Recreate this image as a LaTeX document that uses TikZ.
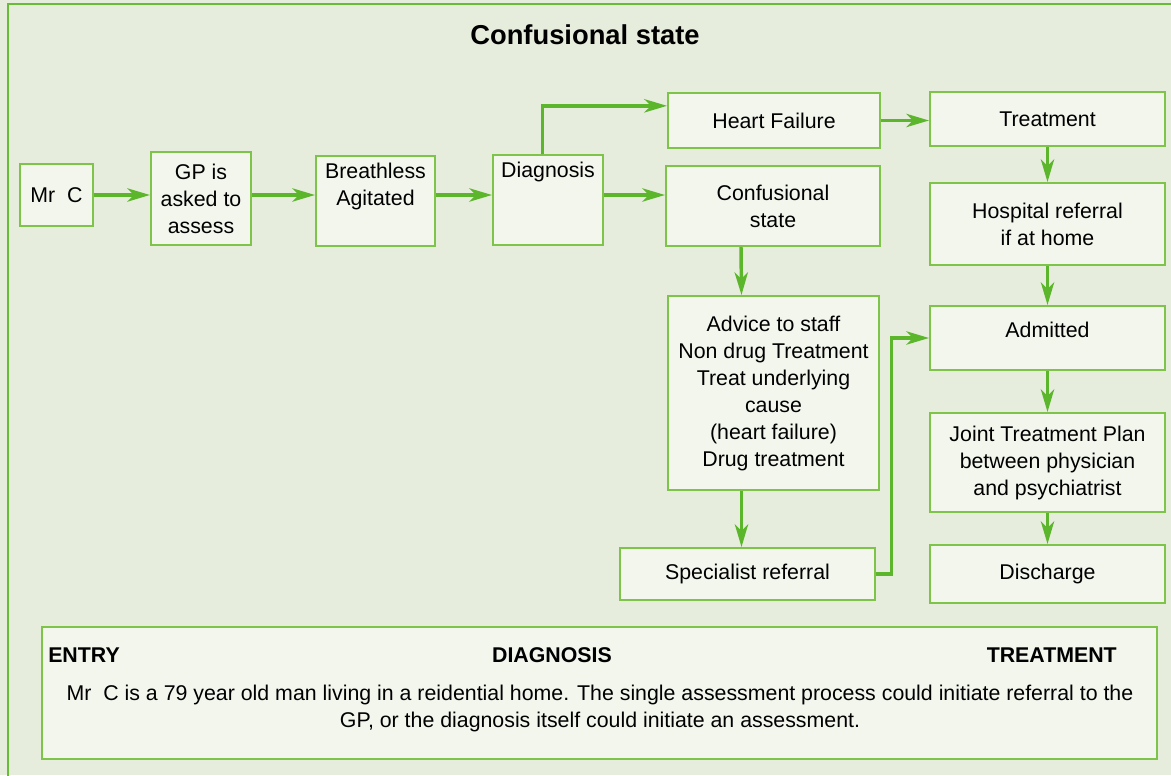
\documentclass[tikz,border=0pt]{standalone}
\usepackage{fontspec}
\setmainfont{Liberation Sans}
\usetikzlibrary{arrows.meta}
\definecolor{bggreen}{RGB}{230,237,221}
\definecolor{boxfill}{RGB}{243,246,237}
\definecolor{boxline}{RGB}{126,196,72}
\definecolor{arrgreen}{RGB}{92,182,44}
\definecolor{framegreen}{RGB}{104,188,56}
\tikzset{every node/.style={inner sep=0pt,font=\fontsize{16}{20.25}\selectfont}}

\begin{document}
\begin{tikzpicture}[x=0.75pt,y=-0.75pt]

\useasboundingbox (0,0) rectangle (1171,775);
\clip (0,0) rectangle (1171,775);
\fill[bggreen] (0,0) rectangle (1171,775);
\draw[framegreen,line width=2.2pt] (8,4) rectangle (1200,800);

\tikzstyle{box}=[draw=boxline,fill=boxfill,line width=1.5pt,align=center]
\tikzstyle{arr}=[draw=arrgreen,line width=2.6pt,-{Stealth[length=17pt,width=10pt,inset=5pt]}]
\tikzstyle{hd}=[font=\bfseries\fontsize{16}{20.25}\selectfont]

\node[font=\bfseries\fontsize{20.5}{24}\selectfont] (title) at (585,35) {Confusional state};

% entry
\node[box,minimum width=54.75pt,minimum height=46.5pt] (mrc) at (56.5,195) {Mr\ \ C};
\node[box,minimum width=75pt,minimum height=69.75pt] (gp) at (201,198.5) {GP is\\asked to\\assess};
\node[box,minimum width=89.25pt,minimum height=67.5pt,
  label={[anchor=north,inner sep=6pt,align=center]north:Breathless\\Agitated}] (brth) at (375.5,201) {};
\node[box,minimum width=82.5pt,minimum height=67.5pt,
  label={[anchor=north,inner sep=6pt]north:Diagnosis}] (diag) at (548,200) {};

% diagnosis
\node[box,minimum width=159pt,minimum height=41.25pt] (hf) at (774,120.5) {Heart Failure};
\node[box,minimum width=160.5pt,minimum height=60pt] (conf) at (773,206) {Confusional\\state};
\node[box,minimum width=158.25pt,minimum height=145.5pt] (adv) at (773.5,393)
  {Advice to staff\\Non drug Treatment\\Treat underlying\\cause\\(heart failure)\\Drug treatment};
\node[box,minimum width=191.25pt,minimum height=39pt] (spec) at (747.5,574) {Specialist referral};

% treatment
\node[box,minimum width=176.25pt,minimum height=40.5pt] (trt) at (1047.5,119) {Treatment};
\node[box,minimum width=176.25pt,minimum height=61.5pt] (hosp) at (1047.5,224) {Hospital referral\\if at home};
\node[box,minimum width=176.25pt,minimum height=48pt,
  label={[anchor=north,inner sep=12.5pt]north:Admitted}] (adm) at (1047.5,338) {};
\node[box,minimum width=176.25pt,minimum height=74.25pt] (jtp) at (1047.5,462.5)
  {Joint Treatment Plan\\between physician\\and psychiatrist};
\node[box,minimum width=176.25pt,minimum height=43.5pt] (dis) at (1047.5,574) {Discharge};

\foreach \a/\b in {mrc/gp,gp/brth,brth/diag,diag/conf}
  \draw[arr] (\a.east |- mrc) -- (\b.west |- mrc);
\draw[arr] ([xshift=-4pt]diag.north) |- ([yshift=11pt]hf.west);
\draw[arr] (hf.east) -- (hf.east -| trt.west);
\foreach \a/\b in {trt/hosp,hosp/adm,adm/jtp,jtp/dis}
  \draw[arr] (\a) -- (\b);
\draw[arr] ([xshift=-24pt]conf.south) -- ([xshift=-24pt]adv.north);
\draw[arr] ([xshift=-24pt]adv.south) -- ([xshift=-24pt]adv.south |- spec.north);
\draw[arr] (spec.east) -| ([xshift=-28pt]adm.west) -- (adm.west);

% legend
\node[box,minimum width=836.25pt,minimum height=99pt] (info) at (599.5,693) {};
\node[hd,anchor=base west] (entry) at (48,662.6) {ENTRY};
\node[hd,anchor=base] (dg) at (552,662.6) {DIAGNOSIS};
\node[hd,anchor=base east] (tr) at (1117,662.6) {TREATMENT};
\node[align=center] (story) at (600,708.5)
  {Mr\ \ C is a 79 year old man living in a reidential home. The single assessment process could initiate referral to the\\
   GP, or the diagnosis itself could initiate an assessment.};

\end{tikzpicture}
\end{document}
